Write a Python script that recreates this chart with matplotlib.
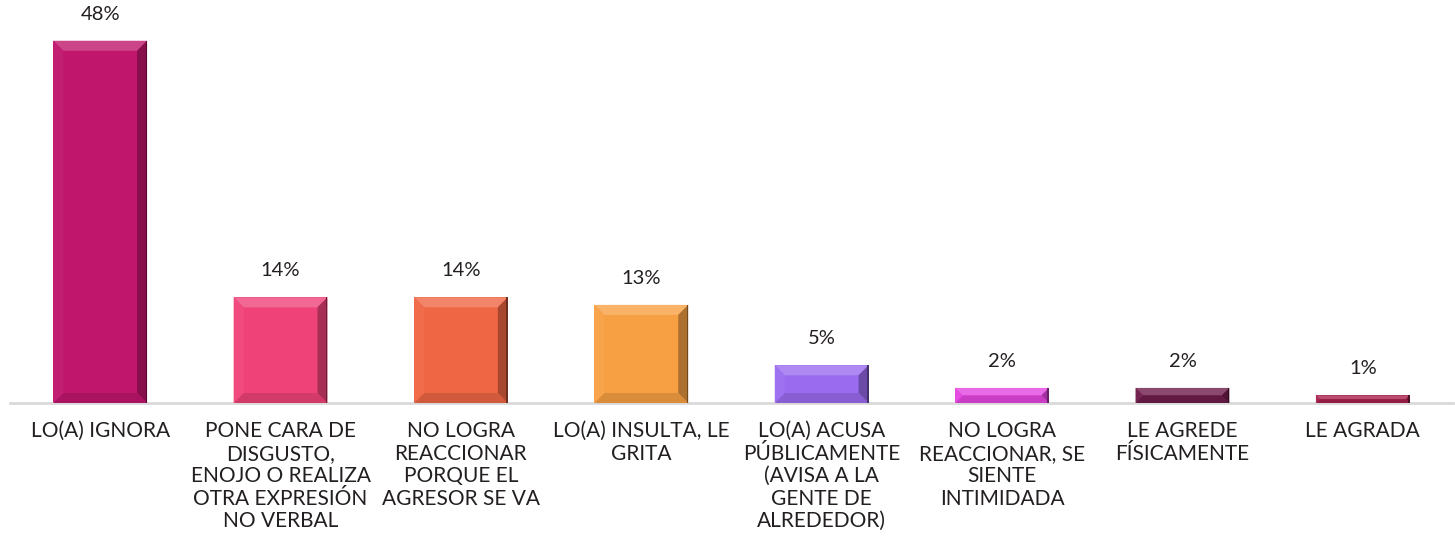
import numpy as np
import matplotlib.pyplot as plt
from matplotlib.patches import Polygon
import matplotlib.colors as mcolors

categories = ["LO(A) IGNORA",
              "PONE CARA DE\nDISGUSTO,\nENOJO O REALIZA\nOTRA EXPRESIÓN\nNO VERBAL",
              "NO LOGRA\nREACCIONAR\nPORQUE EL\nAGRESOR SE VA",
              "LO(A) INSULTA, LE\nGRITA",
              "LO(A) ACUSA\nPÚBLICAMENTE\n(AVISA A LA\nGENTE DE\nALREDEDOR)",
              "NO LOGRA\nREACCIONAR, SE\nSIENTE\nINTIMIDADA",
              "LE AGREDE\nFÍSICAMENTE",
              "LE AGRADA"]
values = [48, 14, 14, 13, 5, 2, 2, 1]
colors = ["#c0166c", "#ef4279", "#ef6644", "#f7a043", "#9a6bef", "#e445e0", "#6e1c4a", "#a8204c"]

plt.rcParams['font.family'] = ['Lato', 'DejaVu Sans']
txt = "#231f20"

fig = plt.figure(figsize=(14.55, 5.41), dpi=100)
ax = fig.add_axes([10 / 1455, 138 / 541, 1443 / 1455, 403 / 541])
x = np.arange(len(values))
bars = ax.bar(x, values, width=0.52, color=colors, edgecolor="none", zorder=2)
ax.set_xlim(-0.5, len(values) - 0.5)
ax.set_ylim(0, 53.4)

for s in ["top", "right", "left"]:
    ax.spines[s].set_visible(False)
ax.spines["bottom"].set_color("#d9d9d9")
ax.spines["bottom"].set_linewidth(2)
ax.set_yticks([])
ax.set_xticks(x)
ax.set_xticklabels(categories, fontsize=15, color=txt, linespacing=1.16, va="top")
ax.tick_params(axis="x", length=0, pad=13)

# bevel effect, built from each bar's own geometry
fig.canvas.draw()
inv = ax.transData.inverted()
for b, c, v in zip(bars, colors, values):
    x0, y0 = b.get_x(), b.get_y()
    x1, y1 = x0 + b.get_width(), y0 + b.get_height()
    (px0, py0), (px1, py1) = ax.transData.transform([(x0, y0), (x1, y1)])
    d = min(10, (py1 - py0) / 2, (px1 - px0) / 2)
    base = np.array(mcolors.to_rgb(c))
    light = base + (1 - base) * 0.2
    dark = base * 0.7
    faces = [
        ([(px0, py1), (px1, py1), (px1 - d, py1 - d), (px0 + d, py1 - d)], light),
        ([(px1, py1), (px1, py0), (px1 - d, py0 + d), (px1 - d, py1 - d)], dark),
        ([(px0, py0), (px1, py0), (px1 - d, py0 + d), (px0 + d, py0 + d)], base * 0.88),
        ([(px0, py0), (px0, py1), (px0 + d, py1 - d), (px0 + d, py0 + d)], base * 0.96 + 0.04),
    ]
    for pts, col in faces:
        ax.add_patch(Polygon(inv.transform(pts), closed=True, facecolor=np.clip(col, 0, 1),
                             edgecolor="none", zorder=3))
    ax.add_patch(Polygon(inv.transform([(px1 - 1.5, py1), (px1, py1), (px1, py0), (px1 - 1.5, py0)]),
                         closed=True, facecolor=np.clip(base * 0.45, 0, 1), edgecolor="none", zorder=4))
    ax.annotate(f"{v}%", (b.get_x() + b.get_width() / 2, y1),
                xytext=(0, 13), textcoords="offset points", ha="center", va="bottom",
                fontsize=14.5, color=txt)

fig.savefig("out.png", dpi=100)
